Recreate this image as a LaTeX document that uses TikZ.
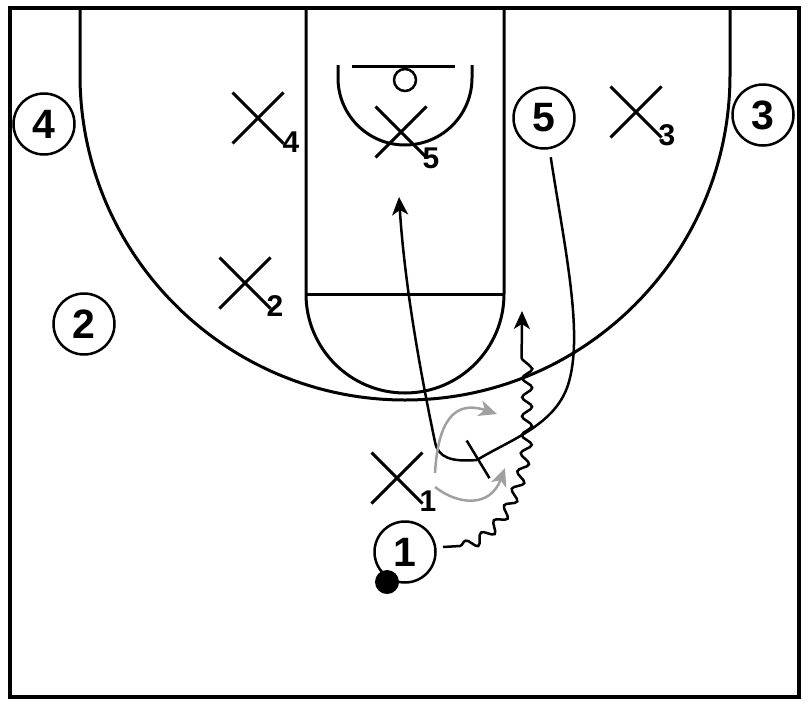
\documentclass[tikz,border=0pt]{standalone}
\usepackage{fontspec}
\setmainfont{Liberation Sans}
\usetikzlibrary{arrows.meta,decorations.pathmorphing,shapes.misc}
\definecolor{passgray}{RGB}{160,160,160}
\tikzset{
  border/.style={line width=4.5pt},
  court/.style={line width=3pt},
  player/.style={circle, draw, line width=2.5pt, minimum size=61pt, inner sep=0pt,
    font=\bfseries\fontsize{41}{41}\selectfont},
  defx/.style={cross out, draw, line width=3pt, minimum size=48pt, inner sep=0pt},
  xlab/.style={inner sep=0pt, font=\bfseries\fontsize{30}{30}\selectfont},
  ball/.style={circle, fill=black, minimum size=24pt, inner sep=0pt},
  move/.style={line width=2.5pt},
  gmove/.style={line width=2.5pt, draw=passgray},
  >={Stealth[length=18pt,width=16pt,inset=5pt]}
}
\begin{document}
\begin{tikzpicture}[x=1pt,y=1pt,yscale=-1]
\useasboundingbox (0,0) rectangle (808,704);
% court
\draw[border] (10,8) rectangle (799,697);
\draw[court] (80,8) -- (80,75) arc[start angle=180, end angle=0, radius=325] -- (730,8);
\draw[court] (306,8) -- (306,294) arc[start angle=180, end angle=0, radius=99] -- (504,8);
\draw[court] (306,294) -- (504,294);
\draw[court] (338,65) -- (338,78) arc[start angle=180, end angle=0, radius=67] -- (472,65);
\draw[court] (352,66) -- (455,66);
\draw[line width=2.5pt] (405,80) circle[radius=11];
% offense
\node[player] (o4) at (44,124) {4};
\node[player] (o3) at (763,115) {3};
\node[player] (o5) at (544,118) {5};
\node[player] (o2) at (84,324) {2};
\node[player, fill=white] (o1) at (405,552) {1};
\node[ball] (ball) at (387,582) {};
% defense
\node[defx] (x4) at (258,118) {};
\node[defx] (x5) at (401,132) {};
\node[defx] (x3) at (636,112) {};
\node[defx] (x2) at (245,283) {};
\node[defx] (x1) at (397,478) {};
\node[xlab] (n4) at (291,142) {4};
\node[xlab] (n5) at (431,158) {5};
\node[xlab] (n3) at (667,135) {3};
\node[xlab] (n2) at (275,306) {2};
\node[xlab] (n1) at (428,501) {1};
% coordinates
\coordinate (d0) at (443,547);
\coordinate (d1) at (522,311);
\coordinate (s) at (477,460);
\coordinate (r) at (399,197);
\coordinate (g0) at (435,473);
\coordinate (g1) at (497,414);
\coordinate (g2) at (435,487);
\coordinate (g3) at (505,468);
% dribble
\draw[move, ->, decorate, decoration={snake, amplitude=5pt, segment length=19pt,
  pre length=17pt, post length=42pt}]
  (d0) -- (460,546) .. controls (495,535) and (518,490) .. (521,440) -- (d1);
% 5 screen
\draw[move, -{Bar[width=44pt]}, shorten <=8pt]
  (o5.-80) .. controls (565,250) and (584,335) .. (568,385)
  .. controls (555,425) and (510,440) .. (s);
% 5 roll
\draw[move, ->] (s) .. controls (452,462) and (438,458) .. (435,442)
  .. controls (422,380) and (405,290) .. (r);
% defender options
\draw[gmove, ->, >={Stealth[length=18pt,width=16pt,inset=5pt,fill=passgray]}]
  (g0) .. controls (438,420) and (455,400) .. (g1);
\draw[gmove, ->, >={Stealth[length=18pt,width=16pt,inset=5pt,fill=passgray]}]
  (g2) .. controls (458,505) and (490,508) .. (g3);
\end{tikzpicture}
\end{document}
